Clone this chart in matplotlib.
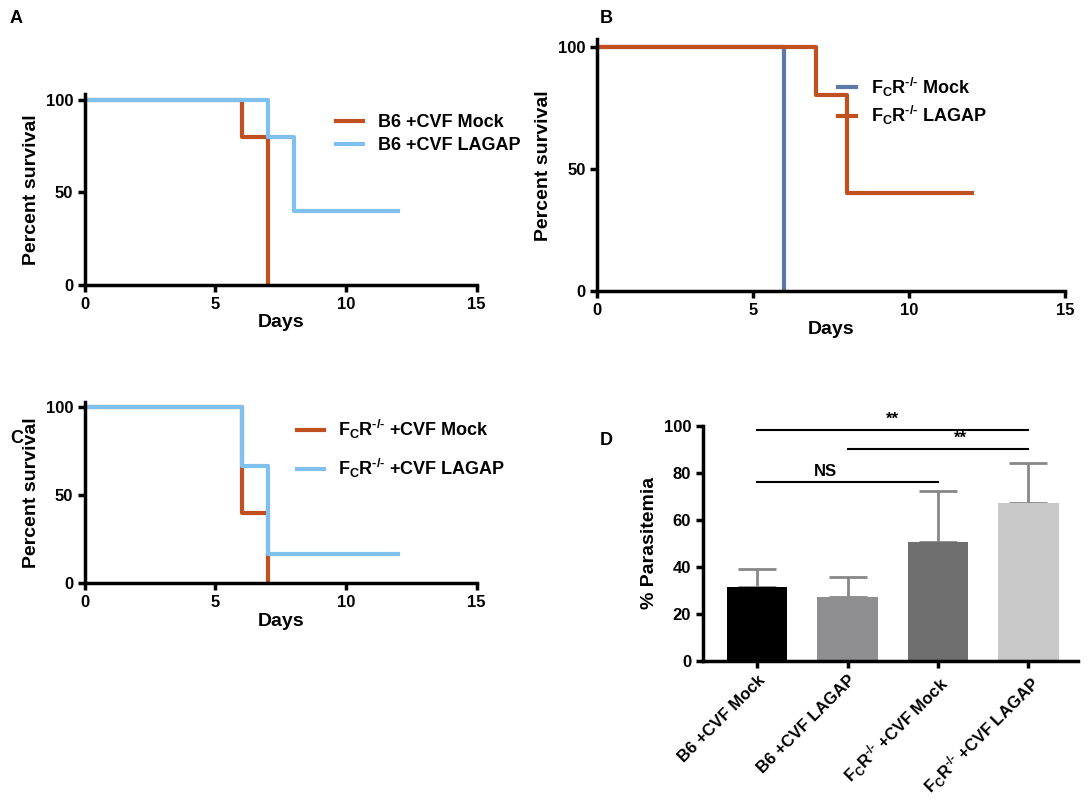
import matplotlib
matplotlib.use("Agg")
import matplotlib.pyplot as plt

plt.rcParams['font.family'] = ['Liberation Sans', 'DejaVu Sans']
plt.rcParams['font.weight'] = 'bold'
plt.rcParams['mathtext.fontset'] = 'custom'
plt.rcParams['mathtext.bf'] = 'Liberation Sans:bold'
plt.rcParams['mathtext.rm'] = 'Liberation Sans:bold'
plt.rcParams['mathtext.default'] = 'bf'

FCR = r"F$_{C}$R$^{\text{-/-}}$"
ORANGE = "#c0501f"
BLUE = "#80c0ef"
SLATE = "#5b7aa8"

# survival curves (step after each time point)
a_days_mock = [0, 6, 7]
a_surv_mock = [100, 80, 0]
a_days_lagap = [0, 7, 8, 12]
a_surv_lagap = [100, 80, 40, 40]

b_days_mock = [0, 6]
b_surv_mock = [100, 0]
b_days_lagap = [0, 7, 8, 12]
b_surv_lagap = [100, 80, 40, 40]

c_days_mock = [0, 6, 7]
c_surv_mock = [100, 40, 0]
c_days_lagap = [0, 6, 7, 12]
c_surv_lagap = [100, 66.7, 16.7, 16.7]

# parasitemia
groups = ["B6 +CVF Mock", "B6 +CVF LAGAP", FCR + " +CVF Mock", FCR + " +CVF LAGAP"]
means = [31.5, 27, 50.5, 67]
upper = [39, 35.5, 72, 84]
bar_colors = ["#000000", "#8f8f92", "#6e6e6e", "#c8c8c8"]

fig = plt.figure(figsize=(10.88, 8), dpi=100)


def style(ax, ymax):
    for s in ["top", "right"]:
        ax.spines[s].set_visible(False)
    for s in ["left", "bottom"]:
        ax.spines[s].set_linewidth(2.5)
    ax.tick_params(width=2.5, length=5, labelsize=12)
    ax.set_xlim(0, 15)
    ax.set_ylim(0, ymax)
    ax.set_xticks([0, 5, 10, 15])
    ax.set_yticks([0, 50, 100])
    ax.set_xlabel("Days", fontsize=14, fontweight="bold", labelpad=2)
    ax.set_ylabel("Percent survival", fontsize=14, fontweight="bold")


axA = fig.add_axes([0.078, 0.644, 0.360, 0.238])
axA.step(a_days_mock, a_surv_mock, where="post", color=ORANGE, lw=3, label="B6 +CVF Mock")
axA.step(a_days_lagap, a_surv_lagap, where="post", color=BLUE, lw=3, label="B6 +CVF LAGAP")
style(axA, 103)
axA.legend(frameon=False, loc="upper left", bbox_to_anchor=(0.6, 0.98), fontsize=13,
           handlelength=1.5, labelspacing=0.3)

axB = fig.add_axes([0.549, 0.636, 0.430, 0.315])
axB.step(b_days_mock, b_surv_mock, where="post", color=SLATE, lw=3, label=FCR + " Mock")
axB.step(b_days_lagap, b_surv_lagap, where="post", color=ORANGE, lw=3, label=FCR + " LAGAP")
style(axB, 103)
axB.legend(frameon=False, loc="upper left", bbox_to_anchor=(0.48, 0.92), fontsize=13,
           handlelength=1, labelspacing=0.3)

axC = fig.add_axes([0.078, 0.271, 0.360, 0.227])
axC.step(c_days_mock, c_surv_mock, where="post", color=ORANGE, lw=3, label=FCR + " +CVF Mock")
axC.step(c_days_lagap, c_surv_lagap, where="post", color=BLUE, lw=3, label=FCR + " +CVF LAGAP")
style(axC, 103)
axC.legend(frameon=False, loc="upper left", bbox_to_anchor=(0.5, 1.0), fontsize=13,
           handlelength=1.5, labelspacing=0.9)

axD = fig.add_axes([0.646, 0.174, 0.345, 0.294])
x = range(len(groups))
err = [u - m for u, m in zip(upper, means)]
axD.bar(x, means, width=0.67, color=bar_colors, zorder=2)
axD.errorbar(x, means, yerr=[[0] * 4, err], fmt="none", ecolor="#888888", elinewidth=2,
             capsize=14, capthick=2, zorder=1)
for s in ["top", "right"]:
    axD.spines[s].set_visible(False)
for s in ["left", "bottom"]:
    axD.spines[s].set_linewidth(2.5)
axD.tick_params(width=2.5, length=5, labelsize=12)
axD.set_xlim(-0.6, 3.55)
axD.set_ylim(0, 100)
axD.set_yticks([0, 20, 40, 60, 80, 100])
axD.set_xticks(list(x))
axD.set_xticklabels(groups, rotation=45, ha="right", rotation_mode="anchor", fontsize=12)
axD.set_ylabel("% Parasitemia", fontsize=14, fontweight="bold")

sig = [(0, 2, 76, "NS"), (1, 3, 90, "**"), (0, 3, 98, "**")]
for i, j, y, txt in sig:
    axD.plot([i, j], [y, y], color="black", lw=1.5, clip_on=False)
    axD.text((i + j) / 2 + (-0.25 if txt == "NS" else 0.25 if j - i == 2 else 0), y + 1.5, txt,
             ha="center", va="bottom", fontsize=12, fontweight="bold")

for lbl, px, py in [("A", 10, 10), ("B", 600, 10), ("C", 10, 430), ("D", 600, 432)]:
    fig.text(px / 1088, 1 - py / 800, lbl, fontsize=13, fontweight="bold", va="top")

fig.savefig("out.png", dpi=100)
